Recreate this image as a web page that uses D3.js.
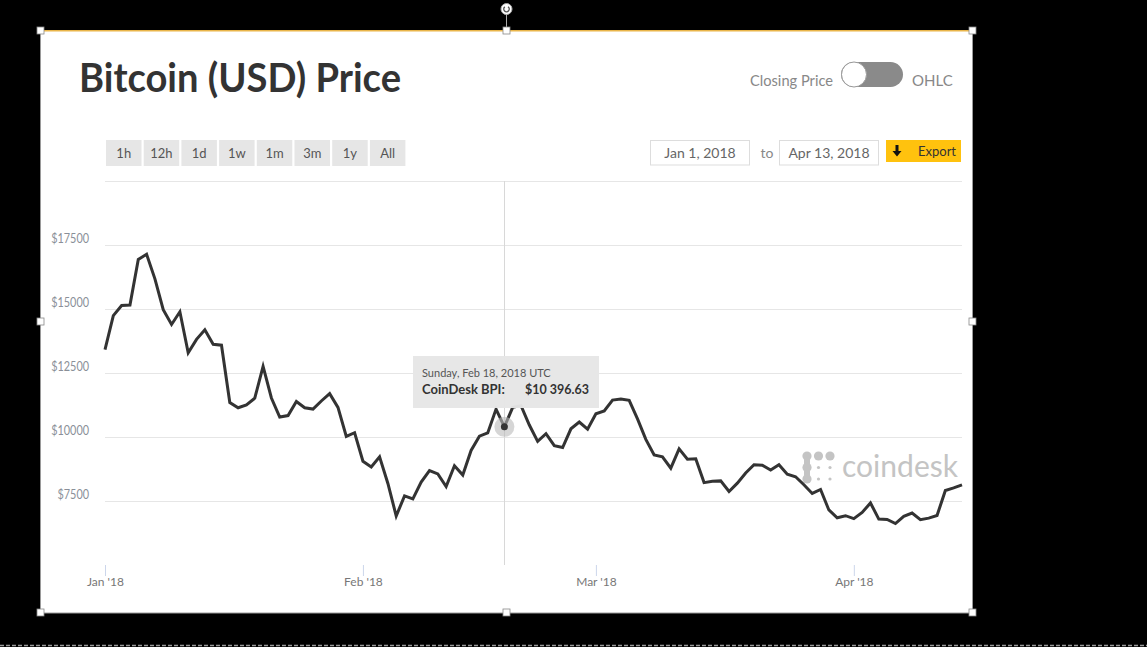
<!DOCTYPE html>
<html>
<head>
<meta charset="utf-8">
<script src="https://cdn.jsdelivr.net/npm/d3@7"></script>
<style>
  html, body { margin: 0; padding: 0; background: #000; }
  svg { display: block; }
  text { font-family: Lato, "Open Sans", sans-serif; }
</style>
</head>
<body>
<svg id="chart" width="1147" height="647"></svg>
<script>
// ---- Data (CoinDesk BPI daily closes) ----
const startDate = "2018-01-01";
const prices = [
  13412, 14740, 15134, 15155, 16937, 17135, 16178, 14971, 14396, 14892,
  13287, 13813, 14188, 13619, 13585, 11348, 11142, 11250, 11514, 12759,
  11524, 10782, 10838, 11387, 11143, 11090, 11407, 11694, 11157, 10021,
  10166,
  9052, 8827, 9225, 8186, 6914, 7700, 7582, 8237, 8689, 8557,
  8064, 8878, 8512, 9476, 10033, 10160, 11089, 10396, 11159, 11225,
  10469, 9831, 10128, 9662, 9589, 10321, 10584, 10308,
  10905, 11018, 11442, 11486, 11433, 10708, 9909, 9298, 9227, 8782,
  9536, 9132, 9147, 8218, 8269, 8285, 7870, 8196, 8593, 8915,
  8895, 8712, 8918, 8547, 8447, 8135, 7796, 7949, 7150, 6845,
  6926,
  6813, 7052, 7424, 6794, 6782, 6620, 6900, 7029, 6767, 6830,
  6933, 7910, 8010, 8130
];
const yTicks = [7500, 10000, 12500, 15000, 17500, 20000];
const yLabelTicks = [7500, 10000, 12500, 15000, 17500];
const monthTicks = ["2018-01-01", "2018-02-01", "2018-03-01", "2018-04-01"];
const rangeButtons = ["1h", "12h", "1d", "1w", "1m", "3m", "1y", "All"];
const hoverDate = "2018-02-18";
const hoverLabel = "Sunday, Feb 18, 2018 UTC";
const hoverSeries = "CoinDesk BPI:";
const hoverValue = "$10 396.63";
const fromLabel = "Jan 1, 2018";
const toLabel = "Apr 13, 2018";

// ---- Setup ----
const svg = d3.select("#chart");
const parse = d3.utcParse("%Y-%m-%d");
const d0 = parse(startDate);
const data = prices.map((v, i) => ({ date: d3.utcDay.offset(d0, i), value: v }));

// Background and card
svg.append("rect").attr("width", 1147).attr("height", 647).attr("fill", "#000");
svg.append("line").attr("x1", 0).attr("x2", 1147).attr("y1", 645.5).attr("y2", 645.5)
  .attr("stroke", "#9a9a9a").attr("stroke-width", 1.5).attr("stroke-dasharray", "4,2");
svg.append("rect").attr("x", 40.5).attr("y", 30.5).attr("width", 932).attr("height", 582.5)
  .attr("fill", "#fff").attr("stroke", "#9a9a9a").attr("stroke-width", 1);
svg.append("line").attr("x1", 41).attr("x2", 972).attr("y1", 30.8).attr("y2", 30.8)
  .attr("stroke", "#e9b54a").attr("stroke-width", 1.5);

// Title
svg.append("text").attr("x", 79).attr("y", 92)
  .attr("font-size", 41).attr("font-weight", 700).attr("fill", "#333")
  .attr("textLength", 322).attr("lengthAdjust", "spacingAndGlyphs")
  .text("Bitcoin (USD) Price");

// Closing price toggle
svg.append("text").attr("x", 833).attr("y", 86).attr("text-anchor", "end")
  .attr("font-size", 15).attr("fill", "#888")
  .attr("textLength", 83).attr("lengthAdjust", "spacingAndGlyphs").text("Closing Price");
svg.append("rect").attr("x", 841).attr("y", 62).attr("width", 62).attr("height", 25)
  .attr("rx", 12.5).attr("fill", "#8a8a8a");
svg.append("circle").attr("cx", 854).attr("cy", 74.5).attr("r", 12.5)
  .attr("fill", "#fff").attr("stroke", "#999").attr("stroke-width", 1);
svg.append("text").attr("x", 912).attr("y", 86)
  .attr("font-size", 15).attr("fill", "#888").text("OHLC");

// Range buttons
const btn = svg.append("g").selectAll("g").data(rangeButtons).join("g")
  .attr("transform", (d, i) => `translate(${106 + i * 37.7},140)`);
btn.append("rect").attr("width", 35.5).attr("height", 26).attr("fill", "#e6e6e6");
btn.append("text").attr("x", 17.75).attr("y", 17.5).attr("text-anchor", "middle")
  .attr("font-size", 13).attr("fill", "#555").text(d => d);

// Date range inputs
function dateBox(x, label) {
  svg.append("rect").attr("x", x + 0.5).attr("y", 140.5).attr("width", 99).attr("height", 24.5)
    .attr("fill", "#fff").attr("stroke", "#ddd");
  svg.append("text").attr("x", x + 50).attr("y", 157.5).attr("text-anchor", "middle")
    .attr("font-size", 14).attr("fill", "#666").text(label);
}
dateBox(650, fromLabel);
svg.append("text").attr("x", 767).attr("y", 157.5).attr("text-anchor", "middle")
  .attr("font-size", 14).attr("fill", "#888").text("to");
dateBox(779, toLabel);

// Export button
svg.append("rect").attr("x", 886).attr("y", 140).attr("width", 75).attr("height", 22).attr("fill", "#ffc20e");
svg.append("path").attr("d", "M895.5,145 h3 v6 h3 l-4.5,5.5 l-4.5,-5.5 h3 z").attr("fill", "#111");
svg.append("text").attr("x", 918).attr("y", 156).attr("font-size", 13).attr("fill", "#333").text("Export");

// ---- Scales ----
const x = d3.scaleUtc().domain([d0, d3.utcDay.offset(d0, 103)]).range([105, 962]);
const y = d3.scaleLinear().domain([5000, 20000]).range([565, 181]);

// Gridlines
svg.append("g").selectAll("line").data(yTicks).join("line")
  .attr("x1", 105).attr("x2", 962)
  .attr("y1", d => Math.round(y(d)) + 0.5).attr("y2", d => Math.round(y(d)) + 0.5)
  .attr("stroke", "#e6e6e6").attr("stroke-width", 1);

// Y labels
svg.append("g").selectAll("text").data(yLabelTicks).join("text")
  .attr("x", 89).attr("y", d => y(d) - 2).attr("text-anchor", "end")
  .attr("font-size", 12.5).attr("fill", "#8a8f98")
  .attr("textLength", d => ("$" + d).length * 6.3).attr("lengthAdjust", "spacingAndGlyphs")
  .text(d => "$" + d);

// X axis
const xAxis = d3.axisBottom(x)
  .tickValues(monthTicks.map(parse))
  .tickFormat(d => d3.utcFormat("%b '%y")(d))
  .tickSize(11).tickPadding(1);
const gx = svg.append("g").attr("transform", "translate(0,565)").call(xAxis);
gx.select(".domain").remove();
gx.selectAll(".tick line").attr("stroke", "#ccd6eb");
gx.selectAll(".tick text").attr("fill", "#777").attr("font-size", 12);

// Watermark logo
const logo = svg.append("g").attr("fill", "#c4c4c4");
[[807, 456, 4.6], [818.5, 456, 4.6], [830, 456, 4.6],
 [807, 467.5, 4.6], [807, 479, 4.6],
 [818.5, 467.5, 1.6], [830, 467.5, 1.6], [818.5, 479, 1.6], [830, 479, 1.6]]
  .forEach(([cx, cy, r]) => logo.append("circle").attr("cx", cx).attr("cy", cy).attr("r", r));
logo.append("rect").attr("x", 804).attr("y", 456).attr("width", 6).attr("height", 23);
svg.append("text").attr("x", 842).attr("y", 477).attr("font-size", 31)
  .attr("fill", "#c4c4c4")
  .attr("textLength", 116).attr("lengthAdjust", "spacingAndGlyphs").text("coindesk");

// Crosshair
const hd = parse(hoverDate);
svg.append("line").attr("x1", Math.round(x(hd)) + 0.5).attr("x2", Math.round(x(hd)) + 0.5)
  .attr("y1", 181).attr("y2", 565).attr("stroke", "#d8d8d8").attr("stroke-width", 1);

// Line
const line = d3.line().x(d => x(d.date)).y(d => y(d.value));
svg.append("path").datum(data).attr("d", line)
  .attr("fill", "none").attr("stroke", "#333").attr("stroke-width", 3)
  .attr("stroke-linejoin", "miter");

// Hover marker
const hp = data.find(d => +d.date === +hd);
svg.append("circle").attr("cx", x(hp.date)).attr("cy", y(hp.value)).attr("r", 10)
  .attr("fill", "#bbb").attr("opacity", 0.6);
svg.append("circle").attr("cx", x(hp.date)).attr("cy", y(hp.value)).attr("r", 3.5)
  .attr("fill", "#333");

// Tooltip
svg.append("rect").attr("x", 413).attr("y", 356).attr("width", 186).attr("height", 52)
  .attr("fill", "#e6e6e6").attr("opacity", 0.97);
svg.append("text").attr("x", 422).attr("y", 377).attr("font-size", 11).attr("fill", "#555")
  .text(hoverLabel);
svg.append("text").attr("x", 422).attr("y", 394).attr("font-size", 13).attr("font-weight", 700)
  .attr("fill", "#333").text(hoverSeries);
svg.append("text").attr("x", 589).attr("y", 394).attr("text-anchor", "end").attr("font-size", 13)
  .attr("font-weight", 700).attr("fill", "#333")
  .attr("textLength", 64).attr("lengthAdjust", "spacingAndGlyphs").text(hoverValue);

// Selection handles
const hx = [40.5, 506.5, 972.5], hy = [30.5, 321.5, 612.5];
const handles = [];
hx.forEach((a, i) => hy.forEach((b, j) => { if (!(i === 1 && j === 1)) handles.push([a, b]); }));
svg.append("line").attr("x1", 506.5).attr("x2", 506.5).attr("y1", 14).attr("y2", 30)
  .attr("stroke", "#aaa").attr("stroke-width", 1);
svg.append("circle").attr("cx", 506.5).attr("cy", 9).attr("r", 5.5).attr("fill", "#fff").attr("stroke", "#aaa");
svg.append("path").attr("d", d3.arc()({ innerRadius: 2, outerRadius: 3.4, startAngle: 0.6, endAngle: 5.6 }))
  .attr("transform", "translate(506.5,9)").attr("fill", "#555");
svg.append("g").selectAll("rect").data(handles).join("rect")
  .attr("x", d => d[0] - 3.5).attr("y", d => d[1] - 3.5).attr("width", 7).attr("height", 7)
  .attr("fill", "#fff").attr("stroke", "#888").attr("stroke-width", 0.8);
</script>
</body>
</html>
